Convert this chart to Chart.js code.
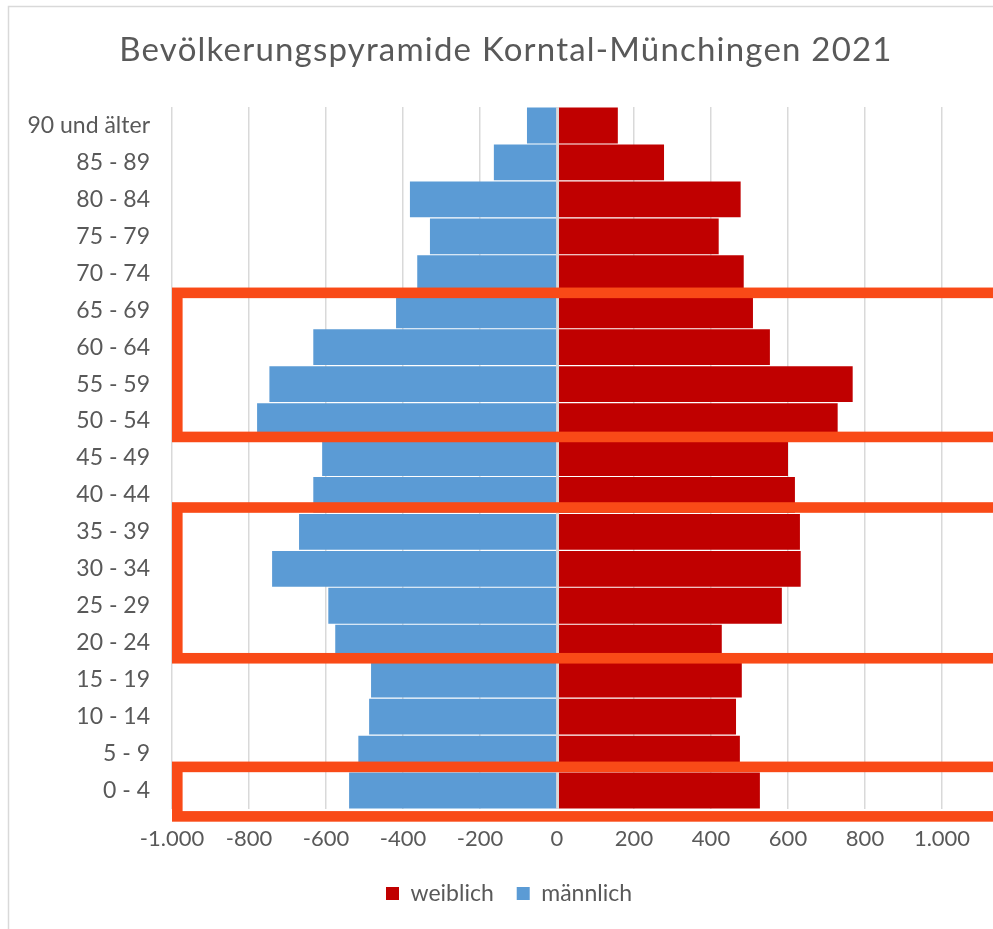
<!DOCTYPE html>
<html>
<head>
<meta charset="utf-8">
<script src="https://cdn.jsdelivr.net/npm/chart.js@4/dist/chart.umd.min.js"></script>
<style>
html,body{margin:0;padding:0;background:#fff;}
#wrap{position:absolute;left:0;top:0;width:993px;height:929px;}
</style>
</head>
<body>
<div id="wrap"><canvas id="c" width="993" height="929"></canvas></div>
<script>
// ---- data ----
const categories = ['90 und älter','85 - 89','80 - 84','75 - 79','70 - 74','65 - 69','60 - 64','55 - 59','50 - 54','45 - 49','40 - 44','35 - 39','30 - 34','25 - 29','20 - 24','15 - 19','10 - 14','5 - 9','0 - 4'];
const weiblich = [158, 278, 477, 420, 485, 509, 553, 768, 729, 600, 618, 631, 633, 584, 428, 480, 465, 475, 527];
const maennlich = [-78, -164, -382, -330, -363, -418, -633, -747, -779, -610, -633, -670, -740, -594, -576, -483, -488, -516, -540];
const xTickValues = [-1000, -800, -600, -400, -200, 0, 200, 400, 600, 800, 1000];
const xTickLabels = ['-1.000', '-800', '-600', '-400', '-200', '0', '200', '400', '600', '800', '1.000'];
const seriesNames = ['weiblich', 'männlich'];
const titleText = 'Bevölkerungspyramide Korntal-Münchingen 2021';

// highlight frames (category-index units: centre line of top edge / bottom edge)
const highlightFrames = [[4.53, 8.43], [10.34, 14.42], [17.36, 18.70]];

const FONT = "Lato, 'Open Sans', sans-serif";
const GREY = '#595959';

function wrapDraw(box, fn) {
  if (!box || box._wrapped) return;
  const orig = box.draw.bind(box);
  box.draw = function (area) {
    const ctx = this.ctx;
    ctx.save();
    fn(ctx);
    orig(area);
    ctx.restore();
  };
  box._wrapped = true;
}

const overlay = {
  id: 'overlay',
  beforeDraw(chart) {
    // title: centred over the whole chart frame, wide spacing like the original
    wrapDraw(chart.titleBlock, (ctx) => {
      ctx.translate(35, 0);
      ctx.font = "normal 33px " + FONT;
      ctx.letterSpacing = '1.2px';
      ctx.wordSpacing = '0px';
      const w = ctx.measureText(titleText).width;
      ctx.wordSpacing = Math.max(0, (755 - w) / 2) + 'px';
    });
    wrapDraw(chart.legend, (ctx) => { ctx.translate(38, 0); });

    const ctx = chart.ctx;
    ctx.save();
    ctx.strokeStyle = '#d9d9d9';
    ctx.lineWidth = 1.5;
    ctx.beginPath();
    ctx.moveTo(8.5, chart.height + 5);
    ctx.lineTo(8.5, 6.5);
    ctx.lineTo(chart.width + 5, 6.5);
    ctx.stroke();
    ctx.restore();
  },
  afterDatasetsDraw(chart) {
    const ctx = chart.ctx;
    const x = chart.scales.x, y = chart.scales.y;
    const zx = x.getPixelForValue(0);
    ctx.save();
    ctx.strokeStyle = '#d9d9d9';
    ctx.lineWidth = 2.6;
    ctx.beginPath();
    ctx.moveTo(zx + 0.7, chart.chartArea.top);
    ctx.lineTo(zx + 0.7, chart.chartArea.bottom);
    ctx.stroke();
    // orange highlight frames
    const lw = 10.6;
    const left = x.getPixelForValue(-1000) + lw / 2;
    const step = (y.getPixelForValue(1) - y.getPixelForValue(0));
    ctx.strokeStyle = '#F94A17';
    ctx.lineWidth = lw;
    highlightFrames.forEach(([a, b]) => {
      const t = y.getPixelForValue(0) + step * a;
      const bt = y.getPixelForValue(0) + step * b;
      ctx.strokeRect(left, t, chart.width + 50 - left, bt - t);
    });
    ctx.restore();
  }
};

new Chart(document.getElementById('c'), {
  type: 'bar',
  data: {
    labels: categories,
    datasets: [
      { label: seriesNames[0], data: weiblich, backgroundColor: '#C00000', borderWidth: 0, barPercentage: 0.97, categoryPercentage: 1.0 },
      { label: seriesNames[1], data: maennlich, backgroundColor: '#5B9BD5', borderWidth: 0, barPercentage: 0.97, categoryPercentage: 1.0 }
    ]
  },
  options: {
    indexAxis: 'y',
    responsive: false,
    animation: false,
    layout: { padding: { left: 0, right: 51, top: 0, bottom: 14 } },
    scales: {
      x: {
        stacked: true,
        min: -1000, max: 1000,
        afterBuildTicks: (s) => { s.ticks = xTickValues.map(v => ({ value: v })); },
        afterFit: (s) => { s.height = 50; },
        grid: { color: '#d9d9d9', lineWidth: 1.5, drawTicks: false },
        border: { display: false },
        ticks: {
          padding: 17,
          color: GREY,
          font: { family: FONT, size: 22 },
          callback: (v, i) => xTickLabels[i]
        }
      },
      y: {
        stacked: true,
        afterFit: (s) => { s.width = 172; },
        grid: { display: false, drawTicks: false },
        border: { display: false },
        ticks: {
          padding: 22,
          color: GREY,
          font: { family: FONT, size: 23 },
          autoSkip: false
        }
      }
    },
    plugins: {
      title: {
        display: true,
        text: titleText,
        color: GREY,
        font: { family: FONT, size: 33, weight: 'normal' },
        padding: { top: 31, bottom: 36.4 }
      },
      legend: {
        position: 'bottom',
        labels: {
          color: GREY,
          font: { family: FONT, size: 23 },
          boxWidth: 13, boxHeight: 13,
          padding: 23
        }
      },
      tooltip: { enabled: false }
    }
  },
  plugins: [overlay]
});
</script>
</body>
</html>
